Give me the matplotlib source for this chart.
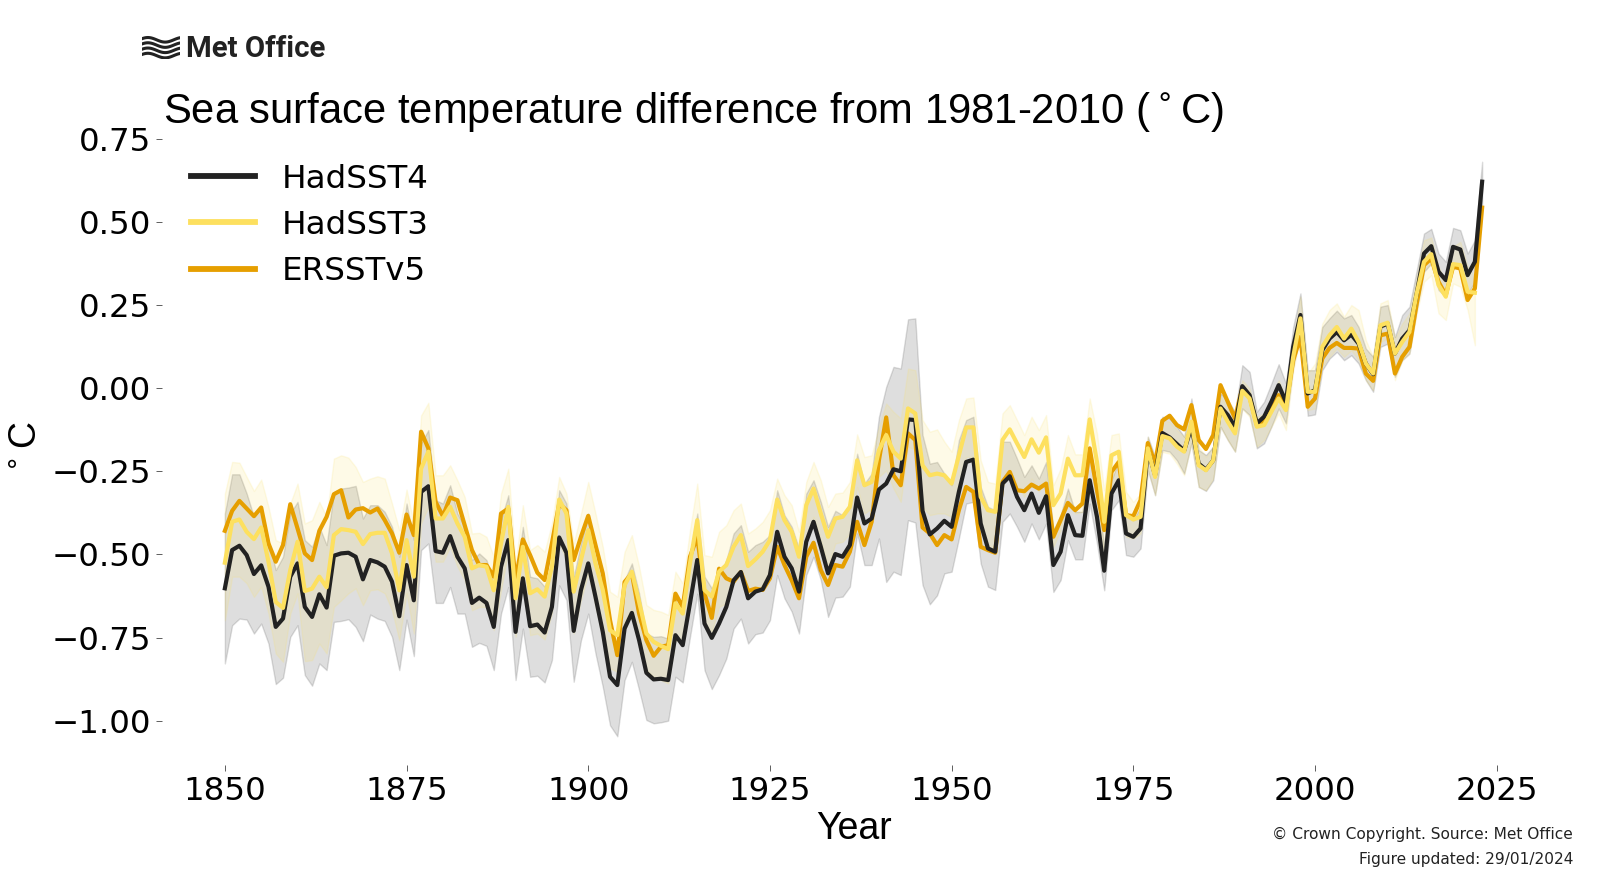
"""
Sea surface temperature difference from 1981-2010, three datasets
"""

import matplotlib
matplotlib.use('Agg')
import matplotlib.pyplot as plt
import numpy as np

# Values, 1850 onwards
years = np.arange(1850, 2024)
hadsst4 = [
    -.602,-.487,-.474,-.502,-.559,-.533,-.597,-.718,-.693,-.567,
    -.527,-.658,-.688,-.620,-.660,-.504,-.497,-.495,-.507,-.575,
    -.517,-.524,-.537,-.582,-.686,-.532,-.638,-.312,-.295,-.490,
    -.495,-.445,-.507,-.542,-.646,-.630,-.646,-.718,-.537,-.457,
    -.733,-.572,-.716,-.711,-.735,-.658,-.449,-.495,-.730,-.607,
    -.527,-.628,-.733,-.868,-.893,-.723,-.676,-.758,-.856,-.876,
    -.874,-.878,-.743,-.773,-.647,-.517,-.708,-.751,-.708,-.658,
    -.578,-.553,-.632,-.612,-.605,-.562,-.432,-.507,-.542,-.612,
    -.462,-.402,-.477,-.557,-.499,-.507,-.472,-.329,-.407,-.392,
    -.305,-.287,-.244,-.250,-.094,-.096,-.369,-.440,-.422,-.399,
    -.417,-.312,-.222,-.215,-.407,-.482,-.492,-.287,-.265,-.327,
    -.367,-.317,-.375,-.325,-.532,-.492,-.382,-.442,-.444,-.277,
    -.387,-.549,-.317,-.277,-.437,-.447,-.422,-.186,-.262,-.135,
    -.148,-.168,-.188,-.116,-.227,-.245,-.217,-.056,-.081,-.116,
    .006,-.021,-.106,-.086,-.041,.009,-.041,.124,.220,-.016,
    -.006,.114,.149,.169,.144,.161,.134,.074,.042,.185,
    .194,.104,.149,.174,.285,.405,.427,.350,.325,.425,
    .417,.340,.380,.621]
hadsst4_upper = [
    -.377,-.259,-.259,-.317,-.387,-.362,-.457,-.547,-.507,-.377,
    -.342,-.457,-.477,-.417,-.472,-.312,-.302,-.299,-.294,-.392,
    -.352,-.352,-.372,-.417,-.507,-.347,-.457,-.166,-.126,-.337,
    -.347,-.292,-.377,-.417,-.517,-.497,-.517,-.587,-.397,-.322,
    -.577,-.417,-.567,-.572,-.597,-.527,-.307,-.347,-.567,-.467,
    -.377,-.487,-.577,-.708,-.778,-.577,-.527,-.617,-.738,-.748,
    -.746,-.753,-.627,-.647,-.507,-.377,-.567,-.602,-.567,-.517,
    -.437,-.412,-.492,-.472,-.462,-.442,-.307,-.382,-.417,-.482,
    -.317,-.277,-.342,-.417,-.369,-.382,-.347,-.197,-.287,-.257,
    -.086,.004,.064,.059,.207,.210,-.141,-.227,-.222,-.257,
    -.292,-.156,-.096,-.086,-.297,-.357,-.367,-.161,-.161,-.212,
    -.267,-.232,-.272,-.222,-.427,-.382,-.302,-.372,-.372,-.196,
    -.297,-.477,-.277,-.217,-.372,-.397,-.357,-.146,-.207,-.086,
    -.091,-.116,-.146,-.031,-.186,-.201,-.176,-.016,-.036,-.071,
    .069,.049,-.071,-.041,.014,.072,.014,.184,.285,.054,
    .054,.184,.210,.233,.210,.220,.184,.119,.094,.245,
    .250,.154,.220,.245,.355,.465,.479,.405,.380,.482,
    .475,.405,.445,.681]
hadsst4_lower = [
    -.828,-.713,-.693,-.696,-.738,-.708,-.768,-.890,-.871,-.748,
    -.713,-.863,-.895,-.828,-.848,-.703,-.700,-.695,-.718,-.761,
    -.681,-.693,-.700,-.748,-.848,-.696,-.806,-.487,-.467,-.646,
    -.646,-.598,-.678,-.678,-.778,-.766,-.775,-.848,-.678,-.598,
    -.878,-.723,-.868,-.865,-.885,-.818,-.593,-.637,-.883,-.758,
    -.678,-.798,-.898,-1.014,-1.047,-.878,-.823,-.908,-.998,-1.008,
    -1.005,-1.000,-.868,-.885,-.748,-.618,-.848,-.905,-.863,-.813,
    -.723,-.693,-.768,-.740,-.735,-.698,-.562,-.632,-.672,-.738,
    -.562,-.507,-.577,-.688,-.630,-.627,-.597,-.437,-.532,-.532,
    -.452,-.583,-.552,-.562,-.397,-.404,-.592,-.650,-.623,-.557,
    -.552,-.452,-.347,-.342,-.527,-.597,-.607,-.402,-.377,-.417,
    -.462,-.407,-.455,-.407,-.613,-.577,-.457,-.515,-.515,-.347,
    -.467,-.608,-.367,-.337,-.502,-.507,-.482,-.247,-.322,-.186,
    -.191,-.217,-.257,-.166,-.297,-.309,-.277,-.116,-.156,-.191,
    -.061,-.081,-.181,-.166,-.116,-.061,-.106,.064,.164,-.083,
    -.079,.054,.089,.109,.084,.099,.074,.024,-.011,.124,
    .134,.034,.084,.104,.235,.350,.375,.295,.275,.370,
    .365,.285,.320,.551]
hadsst3 = [
    -.525,-.402,-.395,-.432,-.454,-.419,-.522,-.643,-.661,-.547,
    -.462,-.610,-.603,-.567,-.599,-.442,-.424,-.427,-.432,-.469,
    -.439,-.435,-.435,-.497,-.608,-.457,-.567,-.242,-.191,-.392,
    -.392,-.357,-.407,-.447,-.542,-.532,-.537,-.608,-.467,-.357,
    -.632,-.477,-.617,-.605,-.627,-.537,-.335,-.377,-.612,-.517,
    -.427,-.527,-.607,-.728,-.743,-.593,-.552,-.643,-.738,-.763,
    -.775,-.785,-.647,-.678,-.527,-.397,-.607,-.627,-.552,-.532,
    -.477,-.442,-.535,-.515,-.492,-.457,-.335,-.397,-.432,-.507,
    -.352,-.302,-.377,-.447,-.392,-.387,-.357,-.217,-.292,-.282,
    -.187,-.141,-.191,-.212,-.061,-.076,-.232,-.262,-.257,-.262,
    -.287,-.202,-.118,-.118,-.327,-.367,-.372,-.156,-.124,-.166,
    -.207,-.154,-.194,-.148,-.352,-.317,-.212,-.262,-.262,-.094,
    -.222,-.402,-.202,-.191,-.382,-.395,-.387,-.181,-.267,-.144,
    -.151,-.176,-.191,-.101,-.232,-.247,-.217,-.061,-.101,-.136,
    -.008,-.031,-.116,-.111,-.071,-.031,-.066,.094,.210,-.011,
    -.011,.124,.159,.184,.149,.179,.139,.074,.044,.189,
    .197,.104,.139,.169,.285,.380,.403,.310,.275,.373,
    .370,.290,.287]
hadsst3_upper = [
    -.317,-.222,-.224,-.267,-.309,-.275,-.357,-.457,-.467,-.347,
    -.287,-.407,-.397,-.342,-.387,-.212,-.202,-.209,-.237,-.282,
    -.272,-.265,-.272,-.347,-.427,-.305,-.407,-.082,-.044,-.262,
    -.262,-.232,-.277,-.327,-.437,-.435,-.447,-.507,-.317,-.242,
    -.527,-.352,-.487,-.472,-.492,-.407,-.267,-.317,-.467,-.377,
    -.282,-.377,-.477,-.612,-.627,-.492,-.442,-.537,-.652,-.667,
    -.672,-.682,-.552,-.587,-.427,-.287,-.502,-.507,-.432,-.412,
    -.367,-.347,-.437,-.422,-.402,-.367,-.272,-.322,-.352,-.432,
    -.282,-.222,-.277,-.357,-.317,-.314,-.282,-.139,-.207,-.202,
    -.116,-.046,-.071,-.091,.059,.054,-.096,-.131,-.124,-.161,
    -.191,-.096,-.031,-.028,-.217,-.282,-.287,-.076,-.051,-.096,
    -.141,-.086,-.126,-.081,-.292,-.242,-.141,-.199,-.199,-.031,
    -.136,-.307,-.141,-.136,-.312,-.342,-.317,-.146,-.227,-.096,
    -.101,-.126,-.146,-.046,-.176,-.207,-.176,-.026,-.056,-.086,
    .024,-.001,-.086,-.076,-.031,.024,-.031,.144,.275,.044,
    .074,.194,.235,.255,.215,.250,.235,.144,.094,.255,
    .265,.149,.194,.225,.335,.445,.453,.365,.320,.425,
    .440,.365,.335]
hadsst3_lower = [
    -.698,-.567,-.567,-.587,-.628,-.597,-.678,-.798,-.823,-.678,
    -.617,-.821,-.818,-.768,-.798,-.658,-.638,-.617,-.602,-.653,
    -.608,-.605,-.617,-.668,-.758,-.617,-.738,-.407,-.357,-.522,
    -.522,-.477,-.537,-.577,-.668,-.658,-.658,-.728,-.608,-.487,
    -.748,-.577,-.743,-.738,-.756,-.677,-.467,-.517,-.738,-.637,
    -.557,-.657,-.748,-.843,-.853,-.703,-.663,-.748,-.848,-.868,
    -.878,-.888,-.758,-.768,-.647,-.517,-.708,-.733,-.658,-.647,
    -.587,-.552,-.632,-.612,-.592,-.547,-.437,-.507,-.542,-.617,
    -.457,-.387,-.457,-.537,-.467,-.462,-.437,-.297,-.377,-.362,
    -.267,-.247,-.302,-.342,-.176,-.186,-.357,-.382,-.377,-.377,
    -.387,-.297,-.207,-.207,-.417,-.472,-.482,-.287,-.247,-.287,
    -.327,-.272,-.312,-.272,-.477,-.427,-.317,-.377,-.372,-.212,
    -.337,-.507,-.297,-.277,-.447,-.452,-.437,-.242,-.322,-.192,
    -.197,-.227,-.262,-.161,-.297,-.307,-.272,-.116,-.156,-.191,
    -.061,-.086,-.176,-.156,-.116,-.076,-.126,.049,.159,-.066,
    -.061,.064,.094,.119,.094,.114,.084,.024,-.006,.139,
    .149,.024,.084,.104,.225,.320,.340,.225,.205,.315,
    .305,.235,.129]
ersst = [
    -.429,-.369,-.339,-.362,-.385,-.359,-.467,-.522,-.472,-.349,
    -.422,-.497,-.517,-.429,-.387,-.319,-.307,-.389,-.365,-.361,
    -.374,-.362,-.397,-.437,-.495,-.380,-.442,-.131,-.181,-.342,
    -.385,-.329,-.337,-.412,-.487,-.532,-.532,-.567,-.377,-.362,
    -.577,-.455,-.502,-.555,-.577,-.467,-.347,-.367,-.517,-.447,
    -.384,-.472,-.557,-.698,-.803,-.583,-.557,-.678,-.758,-.805,
    -.778,-.773,-.618,-.658,-.507,-.447,-.618,-.691,-.543,-.572,
    -.582,-.553,-.610,-.603,-.607,-.572,-.477,-.532,-.578,-.632,
    -.507,-.465,-.547,-.592,-.532,-.537,-.492,-.402,-.472,-.402,
    -.217,-.088,-.262,-.292,-.136,-.156,-.419,-.437,-.472,-.442,
    -.455,-.367,-.297,-.312,-.477,-.487,-.495,-.282,-.252,-.307,
    -.310,-.290,-.302,-.287,-.447,-.397,-.345,-.367,-.347,-.181,
    -.307,-.427,-.252,-.222,-.382,-.385,-.337,-.165,-.227,-.098,
    -.083,-.111,-.124,-.051,-.156,-.183,-.141,.009,-.041,-.091,
    .002,-.026,-.111,-.101,-.066,-.021,-.056,.084,.154,-.056,
    -.031,.089,.121,.136,.121,.121,.119,.044,.022,.159,
    .164,.044,.094,.124,.255,.370,.390,.320,.280,.365,
    .360,.265,.300,.543]

black = '#222222'
yellow = '#fde05f'
orange = '#e69f00'
title_fonts = ['Liberation Sans', 'DejaVu Sans']

fig = plt.figure(figsize=(16, 8.96), dpi=100)
ax = fig.add_axes([162/1600, 1 - 765/896, (1545-162)/1600, (765-133)/896])

yrs3 = years[:len(hadsst3)]
ax.fill_between(years, hadsst4_lower, hadsst4_upper, color=black, alpha=0.15, zorder=1)
ax.fill_between(yrs3, hadsst3_lower, hadsst3_upper, color=yellow, alpha=0.15, zorder=1)
ax.plot(years, hadsst4, color=black, lw=3, label='HadSST4', zorder=3)
ax.plot(yrs3, hadsst3, color=yellow, lw=3, label='HadSST3', zorder=4)
ax.plot(years, ersst, color=orange, lw=3, label='ERSSTv5', zorder=2)

for side in ['top', 'right', 'left', 'bottom']:
    ax.spines[side].set_visible(False)
ax.set_xticks(np.arange(1850, 2026, 25))
ax.set_yticks(np.arange(-1, 0.76, 0.25))
ax.tick_params(labelsize=23.4, length=4, width=0.6, color='#444444')
ax.tick_params(axis='x', pad=4)
ax.tick_params(axis='y', pad=3.5)
ax.set_xlabel('Year', fontsize=27, family=title_fonts, labelpad=3)
ax.set_ylabel('$^\\circ$C', fontsize=27, family=title_fonts, labelpad=5)
leg = ax.legend(loc='upper left', frameon=False, fontsize=23.4, bbox_to_anchor=(0.0, 0.998),
                labelspacing=0.47, handletextpad=0.8, handlelength=1.97)
for line in leg.get_lines():
    line.set_linewidth(4.2)

fig.text(163/1600, 1 - 112/896, 'Sea surface temperature difference from 1981-2010 ($^\\circ$C)',
         fontsize=30.1, family=title_fonts, va='center', ha='left')

fig.text(1573/1600, 1 - 834/896, '\u00a9 Crown Copyright. Source: Met Office',
         fontsize=11.1, color='#222222', ha='right', va='center')
fig.text(1573/1600, 1 - 859/896, 'Figure updated: 29/01/2024',
         fontsize=11.1, color='#222222', ha='right', va='center')

# logo: wave icon and name
logo = fig.add_axes([142/1600, 1 - 59/896, 38/1600, 24/896])
t = np.linspace(0, 1, 60)
for offset in [0.1, 0.33, 0.56, 0.79]:
    logo.plot(t, offset + 0.1*np.sin(2*np.pi*t*1.1 + 0.5), color='#222222', lw=2.2)
logo.set_xlim(0, 1)
logo.set_ylim(-0.05, 1)
logo.axis('off')
fig.text(186/1600, 1 - 49/896, 'Met Office', fontsize=21.2, fontweight='bold',
         family=['Roboto', 'DejaVu Sans'], color='#222222', ha='left', va='center')

fig.savefig('out.png', dpi=100)
